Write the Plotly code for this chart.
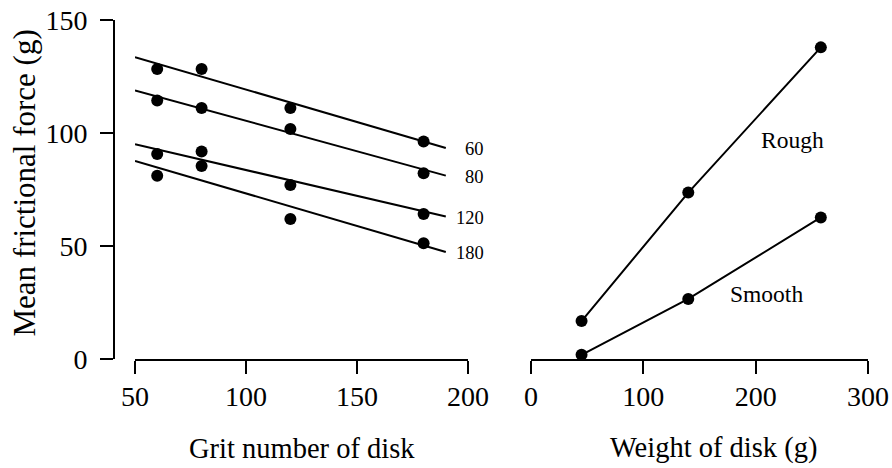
import plotly.graph_objects as go

# ---------- data ----------
grit = [60, 80, 120, 180]
force_60 = [128.3, 128.3, 111.1, 96.3]
force_80 = [114.4, 111.1, 101.8, 82.3]
force_120 = [90.8, 91.9, 77.1, 64.2]
force_180 = [81.1, 85.5, 62.0, 51.3]
series_labels = ["60", "80", "120", "180"]

fit_x = [50, 190]
fit_60 = [133.6, 93.4]
fit_80 = [118.9, 81.2]
fit_120 = [95.1, 63.1]
fit_180 = [87.7, 47.4]

weight = [45, 140, 258]
rough = [16.9, 73.7, 137.9]
smooth = [2.0, 26.7, 62.7]

left_xticks = [50, 100, 150, 200]
right_xticks = [0, 100, 200, 300]
yticks = [0, 50, 100, 150]

# ---------- figure ----------
FONT = "Liberation Serif, Times New Roman, serif"
W, H = 892, 468
ML, MR, MT, MB = 100, 12, 15, 103
PW, PH = W - ML - MR, H - MT - MB


def px2x(px):
    return (px - ML) / PW


def px2y(py):
    return 1 - (py - MT) / PH


fig = go.Figure()

points = [force_60, force_80, force_120, force_180]
fits = [fit_60, fit_80, fit_120, fit_180]
for lab, pts, fit in zip(series_labels, points, fits):
    fig.add_trace(go.Scatter(x=fit_x, y=fit, mode="lines",
                             line=dict(color="black", width=2),
                             xaxis="x", yaxis="y", showlegend=False,
                             cliponaxis=False, hoverinfo="skip"))
    fig.add_trace(go.Scatter(x=grit, y=pts, mode="markers",
                             marker=dict(color="black", size=12),
                             xaxis="x", yaxis="y", showlegend=False,
                             cliponaxis=False))
    fig.add_annotation(x=fit_x[-1], y=fit[-1], xref="x", yref="y",
                       text=lab, showarrow=False, xanchor="right",
                       yanchor="middle", xshift=40, yshift=-1,
                       font=dict(family=FONT, size=18.5, color="black"))

for name, vals in [("Rough", rough), ("Smooth", smooth)]:
    fig.add_trace(go.Scatter(x=weight, y=vals, mode="lines+markers",
                             line=dict(color="black", width=2),
                             marker=dict(color="black", size=12),
                             xaxis="x2", yaxis="y", showlegend=False,
                             cliponaxis=False, name=name))

fig.add_annotation(x=233, y=97, xref="x2", yref="y", text="Rough",
                   showarrow=False, font=dict(family=FONT, size=23.5, color="black"))
fig.add_annotation(x=210, y=28.8, xref="x2", yref="y", text="Smooth",
                   showarrow=False, font=dict(family=FONT, size=23.5, color="black"))

# axis titles
fig.add_annotation(x=px2x(24), y=px2y(183.5), xref="paper", yref="paper",
                   text="Mean frictional force (g)", textangle=-90,
                   showarrow=False, xanchor="center", yanchor="middle",
                   font=dict(family=FONT, size=31, color="black"))
fig.add_annotation(x=px2x(302), y=px2y(448), xref="paper", yref="paper",
                   text="Grit number of disk", showarrow=False,
                   xanchor="center", yanchor="middle",
                   font=dict(family=FONT, size=28.5, color="black"))
fig.add_annotation(x=px2x(713.7), y=px2y(448), xref="paper", yref="paper",
                   text="Weight of disk (g)", showarrow=False,
                   xanchor="center", yanchor="middle",
                   font=dict(family=FONT, size=28.5, color="black"))

axis_common = dict(showgrid=False, zeroline=False, showline=True,
                   linecolor="black", linewidth=2, ticks="outside",
                   ticklen=13, tickwidth=2, tickcolor="black",
                   automargin=False, ticklabeloverflow="allow",
                   tickfont=dict(family=FONT, size=28, color="black"))

fig.update_layout(
    width=W, height=H,
    margin=dict(l=ML, r=MR, t=MT, b=MB, autoexpand=False),
    paper_bgcolor="white", plot_bgcolor="white",
    showlegend=False,
    xaxis=dict(domain=[px2x(135), px2x(468)], range=[50, 200],
               tickvals=left_xticks, anchor="y", ticklabelstandoff=-2,
               **axis_common),
    xaxis2=dict(domain=[px2x(531), px2x(868)], range=[0, 300],
                tickvals=right_xticks, anchor="y", ticklabelstandoff=-2,
                **axis_common),
    yaxis=dict(domain=[px2y(359.3), px2y(20)], range=[0, 150],
               tickvals=yticks, anchor="free", position=px2x(114),
               ticklabelstandoff=7, **axis_common),
)

fig.write_html("out.html",
               config={"displayModeBar": False},
               post_script="document.body.style.margin='0';"
                           "document.body.style.overflow='hidden';")
